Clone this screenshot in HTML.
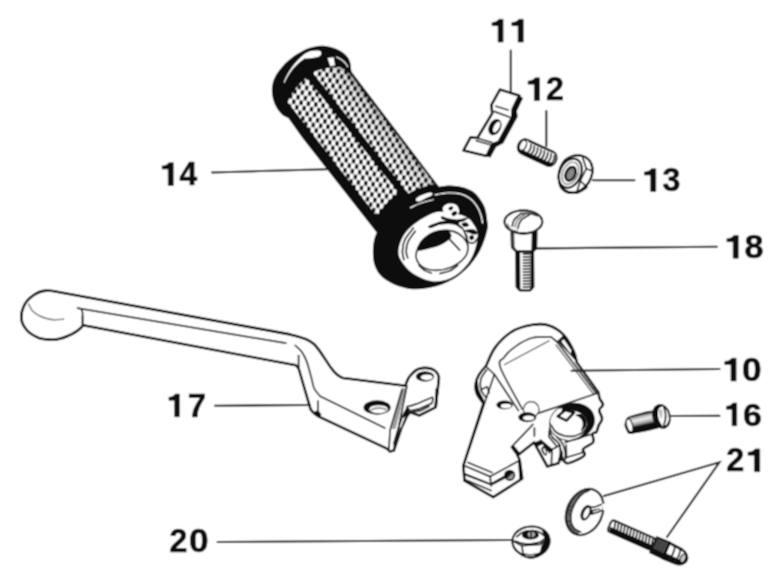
<!DOCTYPE html>
<html>
<head>
<meta charset="utf-8">
<title>Parts diagram</title>
<style>
html,body{margin:0;padding:0;background:#fff;}
body{width:779px;height:582px;overflow:hidden;font-family:"Liberation Sans",sans-serif;}
svg{display:block;}
.lbl{font-family:"Liberation Sans",sans-serif;font-weight:bold;font-size:32px;fill:#111;stroke:#111;stroke-width:0.6px;}
.lb1{fill:#111;stroke:#111;stroke-width:0.6px;}
.ld{stroke:#1a1a1a;stroke-width:2.1;fill:none;stroke-linecap:round;}
.o{stroke:#0a0a0a;stroke-width:2.6;fill:#fff;stroke-linejoin:round;stroke-linecap:round;}
.o2{stroke:#0a0a0a;stroke-width:2.9;fill:#fff;stroke-linejoin:round;stroke-linecap:round;}
.t{stroke:#1a1a1a;stroke-width:1.7;fill:none;stroke-linejoin:round;stroke-linecap:round;}
.g{stroke:#6a6a6a;stroke-width:1.4;fill:none;stroke-linejoin:round;stroke-linecap:round;}
.k{fill:#0a0a0a;stroke:none;}
.w{fill:#fff;stroke:none;}
.wl{stroke:#fff;fill:none;stroke-linecap:round;}
</style>
</head>
<body>
<svg width="779" height="582" viewBox="0 0 779 582">
<defs>
<filter id="soft" x="0" y="0" width="100%" height="100%" filterUnits="objectBoundingBox"><feConvolveMatrix order="3" kernelMatrix="1 2 1 2 4 2 1 2 1" divisor="16" edgeMode="duplicate" preserveAlpha="true"/></filter>
</defs>
<g filter="url(#soft)">
<rect width="779" height="582" fill="#fff"/>
<g id="labels">
<path class="lb1" transform="translate(492.00 42.10) scale(0.982 0.991)" d="M6.2 0V-16.6H0V-19.7C3-19.8 6-21 6.8-23H11.3V0Z"/>
<path class="lb1" transform="translate(511.80 42.10) scale(1.018 0.991)" d="M6.2 0V-16.6H0V-19.7C3-19.8 6-21 6.8-23H11.3V0Z"/>
<path class="lb1" transform="translate(528.10 100.60) scale(1.009 0.991)" d="M6.2 0V-16.6H0V-19.7C3-19.8 6-21 6.8-23H11.3V0Z"/>
<text class="lbl" transform="translate(546.09 100.30) scale(1.006 1.009)">2</text>
<path class="lb1" transform="translate(644.40 191.50) scale(1.009 0.991)" d="M6.2 0V-16.6H0V-19.7C3-19.8 6-21 6.8-23H11.3V0Z"/>
<text class="lbl" transform="translate(662.59 191.20) scale(1.006 1.009)">3</text>
<path class="lb1" transform="translate(162.10 185.50) scale(0.991 0.991)" d="M6.2 0V-16.6H0V-19.7C3-19.8 6-21 6.8-23H11.3V0Z"/>
<text class="lbl" transform="translate(179.41 185.20) scale(0.994 1.009)">4</text>
<path class="lb1" transform="translate(726.90 258.20) scale(1.009 0.991)" d="M6.2 0V-16.6H0V-19.7C3-19.8 6-21 6.8-23H11.3V0Z"/>
<text class="lbl" transform="translate(744.53 257.90) scale(1.069 1.009)">8</text>
<path class="lb1" transform="translate(724.80 381.00) scale(1.000 0.991)" d="M6.2 0V-16.6H0V-19.7C3-19.8 6-21 6.8-23H11.3V0Z"/>
<text class="lbl" transform="translate(742.00 380.70) scale(1.100 1.009)">0</text>
<path class="lb1" transform="translate(726.40 425.80) scale(0.912 0.991)" d="M6.2 0V-16.6H0V-19.7C3-19.8 6-21 6.8-23H11.3V0Z"/>
<text class="lbl" transform="translate(742.94 425.50) scale(1.056 1.009)">6</text>
<text class="lbl" transform="translate(726.19 471.40) scale(1.013 1.009)">2</text>
<path class="lb1" transform="translate(748.00 471.70) scale(1.035 0.991)" d="M6.2 0V-16.6H0V-19.7C3-19.8 6-21 6.8-23H11.3V0Z"/>
<path class="lb1" transform="translate(168.90 416.80) scale(0.929 0.991)" d="M6.2 0V-16.6H0V-19.7C3-19.8 6-21 6.8-23H11.3V0Z"/>
<text class="lbl" transform="translate(187.77 416.50) scale(1.033 1.009)">7</text>
<text class="lbl" transform="translate(169.49 552.10) scale(1.006 1.009)">2</text>
<text class="lbl" transform="translate(189.00 552.10) scale(1.100 1.009)">0</text>
</g>

<g id="grip">
<defs>
<pattern id="kn" width="7.4" height="10.3" patternUnits="userSpaceOnUse" patternTransform="translate(313 112) rotate(7)">
<rect width="7.4" height="10.3" fill="#fff"/>
<rect x="0.15" y="0.2" width="3.4" height="4.75" rx="0.7" fill="#0a0a0a"/>
<rect x="3.85" y="5.35" width="3.4" height="4.75" rx="0.7" fill="#0a0a0a"/>
</pattern>
<linearGradient id="shade" gradientUnits="userSpaceOnUse" x1="380" y1="150" x2="404" y2="131">
<stop offset="0" stop-color="#000" stop-opacity="0"/>
<stop offset="0.6" stop-color="#000" stop-opacity="0.12"/>
<stop offset="1" stop-color="#000" stop-opacity="0.7"/>
</linearGradient>
<filter id="soft2" x="-5%" y="-5%" width="110%" height="110%"><feConvolveMatrix order="3" kernelMatrix="1 2 1 2 4 2 1 2 1" divisor="16" edgeMode="duplicate" preserveAlpha="true"/></filter>
</defs>
<path class="k" d="M284 112 L302.3 137.7 L377 233 L440 188 L351 71 Z"/>
<path class="k" d="M289 118 C285 117 282.5 115.5 280.5 113 C276 108 272.6 101 272 93 C271.4 85 273.5 78 278 72 C284 63.5 292 56.5 301.5 51.5 C307 48.3 312.5 46.6 318 46 C323 45.5 328 46.2 332.5 47.6 C337.5 49.2 341.5 51.5 344.8 54 C348 56.8 350 60 350.6 64 L351.5 73 L300 120 Z"/>
<clipPath id="cpL"><path d="M287.6 101.9 C292 92 299 83.5 306.6 77.8 L398.6 192.8 C391 198 383 206 377 216.4 Z"/></clipPath><clipPath id="cpR"><path d="M312.6 72.4 C322 68 334 66.5 342.5 67.5 L350.7 75 L434.5 184 C426 185.5 417 188.5 408.3 193.4 Z"/></clipPath>
<g clip-path="url(#cpL)"><g><rect x="260" y="40" width="200" height="200" fill="url(#kn)"/></g></g>
<g clip-path="url(#cpR)"><g><rect x="260" y="40" width="200" height="200" fill="url(#kn)"/><rect x="260" y="40" width="200" height="200" fill="url(#shade)"/></g></g>
<path class="w" d="M283.6 82.5 C288 71 296 61 304.5 54 C309 50.8 316 50 320 51 C322.5 52.5 321.5 56 317.5 57 C312 58 308 58.5 304.5 58.5 C296 64 289 72.5 284.6 82.8 Z"/>
<path class="w" d="M327.6 58 L333.6 57.2 L335 65.5 L330.2 66 Z"/>
<path class="wl" d="M336.5 57 C341.5 59 345.5 62.5 347.6 66.5" stroke-width="1.1"/>
<path class="k" d="M372.9 249.8 C373.0 244.9 373.9 239.7 375.2 236.0 C376.5 232.3 378.1 231.1 380.6 227.7 C383.1 224.3 386.6 219.3 390.0 215.5 C393.4 211.7 397.2 208.2 401.2 205.0 C405.2 201.8 409.5 198.6 414.0 196.0 C418.5 193.4 421.9 191.3 428.0 189.6 C434.1 187.8 443.5 185.3 450.7 185.5 C457.9 185.7 465.8 187.3 471.3 190.6 C476.8 193.8 481.0 199.8 483.7 205.0 C486.4 210.2 486.9 217.8 487.5 222.0 C488.1 226.2 488.0 226.5 487.3 230.0 C486.6 233.5 485.1 238.5 483.4 242.8 C481.7 247.1 479.8 251.4 477.0 255.7 C474.2 260.0 470.7 264.6 466.8 268.5 C462.9 272.4 458.8 275.9 453.9 278.8 C449.0 281.7 443.5 284.1 437.3 285.9 C431.1 287.6 423.3 289.3 416.7 289.3 C410.1 289.3 403.5 287.9 397.8 285.9 C392.1 283.9 386.2 280.7 382.3 277.3 C378.4 273.9 376.2 269.9 374.6 265.3 C373.0 260.7 372.8 254.7 372.9 249.8Z"/>
<path class="w" d="M416.2 198.6 C417.0 197.5 420.4 195.8 422.8 194.8 C425.2 193.8 428.8 192.6 430.4 192.6 C431.9 192.6 433.0 193.9 432.3 194.8 C431.5 195.8 428.0 197.1 425.6 198.2 C423.3 199.4 419.7 201.6 418.1 201.6 C416.5 201.7 415.4 199.7 416.2 198.6Z"/>
<path class="wl" stroke-width="1.2" d="M410.5 207.7 C412.3 206.9 417.1 204.3 420.9 203.0 C424.7 201.6 431.2 200.3 433.2 199.7"/>
<path class="wl" stroke-width="1.3" d="M435.1 194.8 C437.1 194.5 443.1 193.1 447.4 192.9 C451.6 192.8 456.8 192.9 460.6 193.9 C464.4 194.8 467.4 196.6 470.1 198.6 C472.7 200.6 474.9 203.0 476.7 205.8 C478.5 208.6 480.1 212.4 481.0 215.2 C482.0 218.1 482.3 221.5 482.5 222.8"/>
<path class="w" d="M398.6 249.3 C398.1 253.5 398.6 256.5 401.1 260.6 C403.5 264.7 407.8 270.4 413.4 273.8 C418.9 277.3 427.2 281.1 434.1 281.4 C441.1 281.7 448.8 279.5 454.9 275.7 C461.1 272.0 467.2 265.2 471.0 258.7 C474.8 252.3 477.2 242.7 477.6 237.0 C478.1 231.3 476.1 228.2 473.8 224.7 C471.6 221.2 469.8 218.3 464.4 216.2 C459.0 214.0 447.7 212.0 441.7 211.8 C435.7 211.7 433.2 213.1 428.5 215.2 C423.8 217.4 417.5 221.4 413.4 224.7 C409.3 228.0 406.4 231.0 403.9 235.1 C401.4 239.2 399.1 245.0 398.6 249.3Z"/>
<path class="t" stroke-width="1" d="M413.4 228.1 C411.9 230.1 406.7 236.0 404.8 239.8 C403.0 243.7 402.5 247.9 402.4 251.2 C402.2 254.5 403.7 258.3 403.9 259.7"/>
<path class="t" stroke-width="0.8" d="M415.2 231.3 C414.0 233.0 409.6 238.4 408.1 241.7 C406.6 245.0 406.2 248.5 406.2 251.2 C406.1 253.8 407.4 256.7 407.7 257.8"/>
<path class="t" stroke-width="1.6" d="M428.9 227.0 C430.7 226.4 435.5 224.3 439.8 223.8 C444.2 223.2 451.2 223.0 454.9 223.8 C458.7 224.5 460.6 226.3 462.5 228.5 C464.4 230.7 465.4 234.1 466.3 237.0 C467.1 239.8 467.4 244.1 467.6 245.5"/>
<path class="k" d="M429.4 225.6 C431.2 224.5 437.8 222.1 441.7 221.3 C445.6 220.5 451.1 220.7 453.1 220.9 C455.0 221.2 455.3 222.3 453.4 222.8 C451.5 223.3 445.4 222.9 441.7 223.8 C438.0 224.6 433.4 227.8 431.3 228.1 C429.3 228.4 427.7 226.8 429.4 225.6Z"/>
<path d="M416.2 257.8 C415.4 254.5 416.8 250.5 418.1 247.4 C419.3 244.2 421.1 241.4 423.8 238.9 C426.4 236.4 430.2 233.7 434.1 232.3 C438.1 230.8 443.1 230.0 447.4 230.4 C451.6 230.7 456.3 232.0 459.7 234.5 C463.1 237.0 467.0 241.6 467.8 245.5 C468.6 249.4 467.2 254.2 464.4 257.8 C461.6 261.4 455.9 265.1 451.2 267.2 C446.4 269.3 440.8 270.4 436.0 270.4 C431.3 270.4 426.1 269.3 422.8 267.2 C419.5 265.1 417.0 261.1 416.2 257.8Z" fill="#fff" stroke="#111" stroke-width="1.6"/>
<path class="k" d="M417.1 250.2 C416.0 248.6 420.9 241.9 423.8 238.9 C426.6 235.9 430.2 233.7 434.1 232.3 C438.1 230.8 444.5 229.6 447.4 230.4 C450.2 231.2 452.1 234.6 451.2 237.0 C450.2 239.3 445.2 242.7 441.7 244.5 C438.2 246.4 434.5 247.4 430.4 248.3 C426.3 249.3 418.2 251.8 417.1 250.2Z"/>
<path class="t" stroke-width="1.5" d="M449.3 238.9 L459.7 250.2"/>
<path class="t" stroke-width="0.9" d="M419.0 265.3 C420.0 266.2 422.6 269.2 424.7 270.4 C426.7 271.7 430.2 272.6 431.3 273.1"/>
<path class="t" stroke-width="0.9" d="M439.8 273.5 C441.4 273.1 446.3 272.4 449.3 271.0 C452.3 269.7 456.4 266.3 457.8 265.3"/>
<path class="w" d="M442.7 208.6 C442.8 206.7 445.2 204.5 447.4 203.9 C449.6 203.3 453.9 203.6 455.9 204.8 C457.8 206.1 459.3 209.5 459.1 211.5 C458.9 213.4 457.1 216.1 454.9 216.8 C452.8 217.4 448.5 216.6 446.4 215.2 C444.4 213.9 442.5 210.5 442.7 208.6Z"/>
<path class="k" d="M448.3 208.6 C448.4 207.9 450.3 206.3 451.2 206.2 C452.0 206.0 453.5 207.0 453.4 207.7 C453.4 208.4 451.6 210.4 450.8 210.5 C449.9 210.7 448.3 209.4 448.3 208.6Z"/>
<path class="k" d="M451.5 213.4 C451.9 212.5 454.4 211.1 455.3 211.1 C456.3 211.1 457.5 212.5 457.2 213.4 C456.9 214.2 454.4 216.2 453.4 216.2 C452.5 216.2 451.2 214.2 451.5 213.4Z"/>
<path class="k" d="M441.7 216.2 C443.0 216.1 446.6 218.1 449.3 218.6 C452.0 219.2 454.6 219.6 457.8 219.4 C460.9 219.2 467.1 217.3 468.2 217.5 C469.3 217.8 465.9 220.0 464.4 220.9 C462.9 221.8 459.7 221.5 459.1 222.8 C458.5 224.1 461.0 228.0 460.6 228.5 C460.2 229.0 458.7 226.7 456.8 225.6 C454.9 224.5 451.8 223.0 449.3 221.9 C446.8 220.8 443.0 220.0 441.7 219.0 C440.5 218.1 440.5 216.3 441.7 216.2Z"/>
<path class="k" d="M461.6 223.8 C461.9 223.0 465.0 222.1 466.3 222.4 C467.5 222.7 469.4 224.9 469.1 225.6 C468.8 226.4 465.7 227.3 464.4 227.0 C463.1 226.7 461.2 224.5 461.6 223.8Z"/>
<path class="k" d="M464.4 230.4 C465.3 229.8 471.6 229.0 473.8 229.4 C476.1 229.9 477.6 232.4 477.6 233.2 C477.6 234.1 475.4 234.6 473.8 234.5 C472.3 234.4 469.8 233.3 468.2 232.6 C466.6 231.9 463.4 230.9 464.4 230.4Z"/>
<path class="k" d="M469.1 237.0 C469.3 236.1 471.5 234.9 472.3 235.1 C473.2 235.3 474.4 237.1 474.2 237.9 C474.0 238.8 471.9 240.4 471.0 240.2 C470.2 240.0 468.9 237.8 469.1 237.0Z"/>
<path class="t" stroke-width="1.4" d="M466.3 234.5 C466.6 235.7 466.9 240.4 468.2 241.7 C469.4 243.1 472.2 243.3 473.8 242.7 C475.5 242.0 477.3 238.7 478.0 237.9"/>
</g>

<g id="small">
<path class="k" stroke="#111" stroke-width="1.6" stroke-linejoin="round" d="M519.2 95.5 L523.1 98.1 L516.9 111.0 L517.7 116.8 L503.3 143.2 L496.2 146.9 L490.3 157.7 L486.7 155.9 L492.2 144.2 L498.7 141.9 L512.3 116.8 L512.7 109.1Z"/>
<path class="o" stroke-width="2.4" d="M499.9 89.6 L519.2 95.5 L512.7 109.1 L512.3 116.8 L498.7 141.9 L492.2 144.2 L486.7 155.9 L463.5 150.4 L470.5 137.3 L477.4 138.0 L492.2 113.3 L491.4 104.8Z"/>
<path class="t" stroke-width="1.6" d="M495.9 106.3 L508.1 110.0"/>
<path class="t" stroke-width="1.1" d="M494.0 111.4 L510.0 117.2"/>
<path class="t" stroke-width="1.2" d="M478.2 138.5 L491.5 142.4"/>
<path class="t" stroke-width="1.2" d="M476.4 140.7 L490.3 144.7"/>
<ellipse cx="494.9" cy="127.2" rx="6" ry="8.6" transform="rotate(28 494.9 127.2)" fill="#111"/>
<ellipse cx="496.6" cy="127.1" rx="2.7" ry="5.8" transform="rotate(28 496.6 127.1)" fill="#fff"/>
<g transform="translate(537.2 152.6) rotate(25)">
<rect x="-20.5" y="-7.5" width="41" height="15" rx="6" ry="7.5" fill="#fff" stroke="#111" stroke-width="1.9"/>
<path class="k" d="M-19.5 1 C-19 6 -15 8.4 -10 8.4 L15 8.4 C18.5 8.4 20.5 5 21 1 C19 3 17 3.6 14 3.6 L-10 3.6 C-14 3.6 -17.5 3 -19.5 1Z"/>
<path class="t" stroke-width="1.5" d="M-9.0 -4.5 C-7.6 -2 -7.4 1 -8.4 4"/>
<path class="t" stroke-width="1.5" d="M-5.3 -4.5 C-3.9 -2 -3.7 1 -4.7 4"/>
<path class="t" stroke-width="1.5" d="M-1.6 -4.5 C-0.2 -2 0.0 1 -1.0 4"/>
<path class="t" stroke-width="1.5" d="M2.1 -4.5 C3.5 -2 3.7 1 2.7 4"/>
<path class="t" stroke-width="1.5" d="M5.8 -4.5 C7.2 -2 7.4 1 6.4 4"/>
<path class="t" stroke-width="1.5" d="M9.5 -4.5 C10.9 -2 11.1 1 10.1 4"/>
<path class="t" stroke-width="1.5" d="M13.2 -4.5 C14.6 -2 14.8 1 13.8 4"/>
<path class="t" stroke-width="1.5" d="M16.9 -4.5 C18.3 -2 18.5 1 17.5 4"/>
<path class="t" stroke-width="1.2" d="M-12 -6.8 L14 -6.8"/>
<ellipse cx="-16" cy="-0.6" rx="3.2" ry="5.4" fill="#fff" stroke="#111" stroke-width="1.3"/>
</g>
<path d="M558.7 176.4 C558.5 173.2 559.4 170.1 560.5 167.4 C561.6 164.6 563.3 161.8 565.4 159.9 C567.5 158.0 570.4 156.5 573.1 155.8 C575.9 155.1 579.5 155.0 582.2 155.8 C584.8 156.5 587.5 158.1 589.3 160.3 C591.0 162.4 592.2 165.7 592.5 168.7 C592.8 171.7 592.1 175.3 590.9 178.3 C589.7 181.3 587.7 184.4 585.4 186.7 C583.1 189.0 579.9 191.3 577.0 192.1 C574.1 193.0 570.6 192.8 568.0 191.9 C565.4 191.0 563.1 189.3 561.5 186.7 C560.0 184.1 558.9 179.6 558.7 176.4Z" fill="#fff" stroke="#111" stroke-width="2.4"/>
<path class="k" d="M558.5 175.1 C559.1 176.0 560.0 183.4 561.5 186.1 C563.1 188.7 565.4 190.2 568.0 191.1 C570.6 192.0 574.1 192.2 577.0 191.3 C579.9 190.5 583.7 186.7 585.4 186.2 C587.1 185.6 588.5 186.8 587.3 188.0 C586.1 189.2 581.6 192.5 578.3 193.4 C575.0 194.3 570.3 194.2 567.3 193.4 C564.4 192.6 562.1 190.7 560.5 188.6 C558.9 186.6 558.3 183.2 557.9 180.9 C557.6 178.6 557.9 174.2 558.5 175.1Z"/>
<ellipse cx="570.3" cy="173.2" rx="10.6" ry="15.2" transform="rotate(24 570.3 173.2)" fill="#fff" stroke="#111" stroke-width="2.2"/>
<ellipse cx="570.3" cy="173.2" rx="7.6" ry="11.6" transform="rotate(24 570.3 173.2)" fill="none" stroke="#333" stroke-width="0.9"/>
<ellipse cx="570.6" cy="173.8" rx="4.6" ry="7.2" transform="rotate(24 570.6 173.8)" fill="#888" stroke="#111" stroke-width="2.6"/>
<path class="t" stroke-width="1.5" d="M582.4 156.4 L586.3 168.7 L580.2 180.9 L577.0 191.6"/>
<path class="t" stroke-width="1.5" d="M586.3 168.7 L592.5 171.0"/>
<path class="t" stroke-width="1.2" d="M580.2 180.9 L586.0 186.1"/>
<path class="o" stroke-width="1.8" d="M516.5 250.7 L532.8 250.7 L533.1 286.8 L530.2 290.2 L519.9 290.2 L516.8 286.8Z"/>
<path class="k" d="M516.5 251.0 L520.1 251.0 L520.4 289.3 L519.9 290.2 L516.8 286.8Z"/>
<path class="k" d="M530.7 251.0 L533.1 251.0 L533.1 286.8 L530.7 289.7Z"/>
<path class="t" stroke-width="1.2" d="M523.4 254.1 L530.4 253.6"/>
<path class="t" stroke-width="1.2" d="M523.4 257.1 L530.4 256.6"/>
<path class="t" stroke-width="1.2" d="M523.4 260.1 L530.4 259.6"/>
<path class="t" stroke-width="1.2" d="M523.4 263.1 L530.4 262.6"/>
<path class="t" stroke-width="1.2" d="M523.4 266.2 L530.4 265.6"/>
<path class="t" stroke-width="1.2" d="M523.4 269.2 L530.4 268.6"/>
<path class="t" stroke-width="1.2" d="M523.4 272.2 L530.4 271.6"/>
<path class="t" stroke-width="1.2" d="M523.4 275.2 L530.4 274.7"/>
<path class="t" stroke-width="1.2" d="M523.4 278.2 L530.4 277.7"/>
<path class="t" stroke-width="1.2" d="M523.4 281.2 L530.4 280.7"/>
<path class="t" stroke-width="1.2" d="M523.4 284.2 L530.4 283.7"/>
<path class="t" stroke-width="1.2" d="M523.4 287.2 L530.4 286.7"/>
<path class="o" stroke-width="1.8" d="M511.8 231.8 L536.2 231.8 L535.9 248.5 L532.5 251.5 L516.5 251.5 L512.2 247.3Z"/>
<path d="M511.8 232.6 L514.2 232.6 L514.6 246.7 L517.0 251.2 L516.1 251.5 L512.0 247.3Z" fill="#444"/>
<path class="k" d="M531.8 232.6 L536.2 232.1 L535.9 248.5 L532.5 251.5 L531.4 251.5Z"/>
<ellipse cx="523.4" cy="221.8" rx="18.9" ry="11.4" fill="#fff" stroke="#111" stroke-width="2.2"/>
<path class="t" stroke-width="1.8" d="M506.7 227.5 C507.9 228.3 511.1 231.2 513.9 232.3 C516.7 233.4 520.1 234.1 523.4 234.0 C526.6 234.0 530.8 233.2 533.7 232.0 C536.5 230.7 539.4 227.5 540.5 226.6"/>
<path class="t" stroke-width="1.4" d="M512.2 226.1 C512.5 225.1 512.8 221.8 514.2 219.8 C515.7 217.7 519.7 214.7 520.8 213.7"/>
<path class="t" stroke-width="1.4" d="M517.7 228.5 C518.2 227.2 518.8 222.9 520.8 220.6 C522.7 218.3 527.9 215.8 529.4 214.8"/>
<path class="g" stroke-width="1.6" d="M514.9 227.1 C515.3 226.0 515.7 222.4 517.3 220.3 C518.9 218.2 523.4 215.4 524.6 214.4"/>
<path class="t" stroke-width="1.2" d="M520.8 213.7 C522.2 213.7 526.6 213.1 529.4 213.4 C532.1 213.7 535.8 215.4 537.1 215.8"/>
<path class="g" d="M507.4 224.1 C507.9 224.9 508.8 228.0 510.5 229.2 C512.1 230.4 516.2 230.9 517.3 231.3"/>
<defs><linearGradient id="b16" gradientUnits="userSpaceOnUse" x1="642.0" y1="414.3" x2="645.5" y2="430.0"><stop offset="0" stop-color="#333"/><stop offset="0.1" stop-color="#aaa"/><stop offset="0.3" stop-color="#eee"/><stop offset="0.55" stop-color="#999"/><stop offset="0.68" stop-color="#1a1a1a"/><stop offset="0.75" stop-color="#0a0a0a"/><stop offset="1" stop-color="#0a0a0a"/></linearGradient></defs>
<path d="M628.5 417.5 C630.8 416.3 650.9 410.7 653.6 411.4 C656.3 412.2 662.5 424.7 660.8 426.4 C659.1 428.2 635.7 432.4 633.0 432.9 C630.3 433.4 629.1 433.2 628.5 432.6 C627.8 431.9 625.3 426.8 625.3 425.5 C625.3 424.3 626.1 418.6 628.5 417.5Z" fill="url(#b16)" stroke="#111" stroke-width="1.6" stroke-linejoin="round"/>
<ellipse cx="629.6" cy="425.4" rx="2.9" ry="6.6" transform="rotate(-16 629.6 425.4)" fill="#fff" stroke="#111" stroke-width="1.2"/>
<ellipse cx="661.5" cy="416.4" rx="8.2" ry="11.6" transform="rotate(-14 661.5 416.4)" fill="#fff" stroke="#111" stroke-width="2"/>
<path class="k" d="M653.8 412.1 C654.0 410.0 654.9 407.8 655.9 406.7 C656.9 405.5 659.0 405.1 659.9 405.1 C660.9 405.0 661.9 405.7 661.7 406.2 C661.6 406.8 659.7 407.4 659.0 408.5 C658.4 409.6 657.9 411.0 657.9 413.0 C657.9 414.9 658.2 417.9 659.0 420.2 C659.8 422.4 662.4 425.4 662.6 426.6 C662.8 427.8 661.4 427.7 660.4 427.3 C659.4 427.0 657.5 426.0 656.5 424.6 C655.5 423.3 655.0 421.4 654.5 419.3 C654.1 417.2 653.6 414.2 653.8 412.1Z"/>
<path d="M659.0 410.7 C659.3 409.7 661.2 409.0 661.7 409.4 C662.3 409.7 662.4 411.5 662.4 413.0 C662.4 414.5 662.1 417.9 661.7 418.4 C661.3 418.8 660.4 416.9 659.9 415.7 C659.5 414.4 658.7 411.8 659.0 410.7Z" fill="#bbb"/>
<path class="t" stroke-width="1.2" d="M664.0 407.6 C664.2 408.5 665.3 410.9 665.5 413.0 C665.7 415.1 665.6 418.1 665.3 420.2 C665.0 422.3 663.8 424.6 663.5 425.5"/>
<path class="k" d="M663.5 426.0 C664.0 425.4 665.8 425.5 666.7 424.6 C667.5 423.8 668.2 421.5 668.7 421.1 C669.3 420.6 670.0 421.1 669.8 422.0 C669.6 422.9 668.5 425.4 667.6 426.4 C666.6 427.5 664.6 428.5 664.0 428.4 C663.3 428.3 663.1 426.6 663.5 426.0Z"/>
<ellipse cx="584.7" cy="512.0" rx="17.6" ry="24" transform="rotate(25 584.7 512.0)" fill="#fff" stroke="#111" stroke-width="2.2"/>
<path d="M587.0 490.1 C585.9 490.6 582.7 491.3 580.6 492.9 C578.5 494.5 576.2 497.1 574.4 499.6 C572.6 502.1 570.9 505.1 569.8 507.8 C568.7 510.6 567.9 513.3 567.7 516.1 C567.6 518.8 567.9 521.9 568.8 524.3 C569.6 526.7 571.3 529.0 572.9 530.5 C574.5 532.1 577.6 533.1 578.6 533.6" fill="none" stroke="#111" stroke-width="4.2" stroke-dasharray="1.5 0.5"/>
<path class="t" stroke-width="1.3" d="M589.4 490.3 C588.4 490.8 585.3 491.8 583.2 493.4 C581.1 495.0 578.8 497.6 577.0 500.1 C575.2 502.6 573.6 505.7 572.6 508.4 C571.5 511.0 571.0 513.6 570.8 516.1 C570.7 518.6 570.9 521.2 571.5 523.3 C572.2 525.4 573.4 527.5 574.9 529.0 C576.5 530.4 579.7 531.5 580.6 532.1"/>
<ellipse cx="586.0" cy="512.8" rx="4.9" ry="8.2" transform="rotate(25 586.0 512.8)" fill="#111"/>
<ellipse cx="586.4" cy="513.0" rx="2.3" ry="5.6" transform="rotate(25 586.4 513.0)" fill="#fff"/>
<path class="t" stroke-width="1.8" d="M590.1 507.0 C590.9 507.0 593.2 507.4 595.1 507.0 C596.9 506.6 600.2 504.9 601.2 504.5"/>
<path class="t" stroke-width="1.8" d="M590.7 514.2 C591.8 513.9 595.0 513.2 597.1 512.5 C599.2 511.8 602.3 510.3 603.3 509.9"/>
<path class="k" d="M590.9 509.9 L599.7 508.4 L600.2 511.4 L591.4 513.8Z"/>
<path class="wl" stroke-width="1.3" d="M593.5 511.8 L598.7 510.3"/>
<path class="w" d="M601.8 503.9 L605.4 503.2 L605.9 509.9 L603.1 510.5Z"/>
<g transform="translate(609.6 525.2) rotate(23.7)">
<rect x="0" y="-6.2" width="48" height="12.4" rx="3" fill="#fff" stroke="#111" stroke-width="2"/>
<path class="k" d="M0.5 1.2 L48 1.2 L48 7 L3 7 Z"/>
<path class="t" stroke-width="1.2" d="M4.0 -5.6 L5.8 1.6"/>
<path class="t" stroke-width="1.2" d="M7.4 -5.6 L9.2 1.6"/>
<path class="t" stroke-width="1.2" d="M10.8 -5.6 L12.6 1.6"/>
<path class="t" stroke-width="1.2" d="M14.2 -5.6 L16.0 1.6"/>
<path class="t" stroke-width="1.2" d="M17.6 -5.6 L19.4 1.6"/>
<path class="t" stroke-width="1.2" d="M21.0 -5.6 L22.8 1.6"/>
<path class="t" stroke-width="1.2" d="M24.4 -5.6 L26.2 1.6"/>
<path class="t" stroke-width="1.2" d="M27.8 -5.6 L29.6 1.6"/>
<path class="t" stroke-width="1.2" d="M31.2 -5.6 L33.0 1.6"/>
<path class="t" stroke-width="1.2" d="M34.6 -5.6 L36.4 1.6"/>
<path class="t" stroke-width="1.2" d="M38.0 -5.6 L39.8 1.6"/>
<path class="t" stroke-width="1.2" d="M41.4 -5.6 L43.2 1.6"/>
<path class="t" stroke-width="1.2" d="M44.8 -5.6 L46.6 1.6"/>
<path d="M48 -8 L62 -8.6 L62 9 L48 8.6 Z" fill="#aaa" stroke="#111" stroke-width="1.8" stroke-linejoin="round"/>
<path class="k" d="M48 3.5 L62 4 L62 9.4 L48 9Z"/>
<path class="t" stroke-width="0.8" d="M49.8 -7.8 L49.8 3.5"/>
<path class="t" stroke-width="0.8" d="M52.0 -7.8 L52.0 3.5"/>
<path class="t" stroke-width="0.8" d="M54.2 -7.8 L54.2 3.5"/>
<path class="t" stroke-width="0.8" d="M56.4 -7.8 L56.4 3.5"/>
<path class="t" stroke-width="0.8" d="M58.6 -7.8 L58.6 3.5"/>
<path class="t" stroke-width="0.8" d="M60.8 -7.8 L60.8 3.5"/>
<path class="o" stroke-width="1.8" d="M62 -7.8 L76 -6.8 C81 -6 84.5 -2.5 84.5 1.2 C84.5 5 81 8 76 8.4 L62 8.8Z"/>
<path class="k" d="M62 3 L76 3.4 C80 3.4 83 2.8 84.5 1.2 C84.5 5 81 8.4 76 8.8 L62 9.2Z"/>
<path class="t" stroke-width="1.3" d="M68 -7.3 C70 -3 70 4 68 8.6"/>
<path class="t" stroke-width="1.1" d="M74 -6.8 C76 -3 76 3 74 8.2"/>
<ellipse cx="80.6" cy="0.8" rx="2.5" ry="4.4" fill="#ccc" stroke="#111" stroke-width="1.3"/>
</g>
<path d="M512.5 540.0 C512.8 537.9 513.6 535.4 515.3 533.4 C517.0 531.4 519.8 529.4 522.4 528.2 C525.0 527.1 528.1 526.6 530.9 526.5 C533.7 526.4 536.8 526.8 539.4 527.7 C542.0 528.7 544.8 530.5 546.5 532.5 C548.2 534.4 549.3 537.0 549.6 539.6 C549.8 542.1 549.1 545.2 547.9 547.6 C546.7 549.9 544.6 552.1 542.2 553.7 C539.9 555.4 536.5 557.0 533.7 557.5 C530.9 558.0 528.0 557.6 525.2 556.5 C522.5 555.5 519.2 553.1 517.2 551.4 C515.2 549.6 514.2 548.1 513.4 546.2 C512.6 544.3 512.2 542.1 512.5 540.0Z" fill="#fff" stroke="#111" stroke-width="2.2"/>
<path class="k" d="M542.2 530.6 C542.7 530.2 545.5 531.4 546.7 532.9 C548.0 534.4 549.6 537.1 549.8 539.6 C550.0 542.0 549.1 545.4 547.9 547.9 C546.6 550.3 544.6 552.4 542.2 554.1 C539.9 555.8 536.5 557.5 533.7 558.0 C530.9 558.4 527.7 557.8 525.2 556.9 C522.7 556.1 518.9 553.4 518.6 552.8 C518.3 552.2 521.1 553.1 523.3 553.2 C525.5 553.4 529.2 554.1 531.8 553.9 C534.5 553.7 537.8 553.6 539.4 552.3 C541.0 551.0 540.5 548.0 541.3 546.2 C542.1 544.4 543.7 543.2 544.1 541.4 C544.5 539.6 543.9 537.1 543.6 535.3 C543.3 533.5 541.7 531.0 542.2 530.6Z"/>
<path class="w" d="M523.3 547.1 C523.8 546.7 529.8 546.7 530.9 546.6 C531.9 546.6 538.3 545.8 538.9 546.2 C539.5 546.5 539.9 550.9 539.4 551.4 C538.9 551.8 532.9 552.3 531.8 552.3 C530.8 552.3 524.4 552.4 523.8 552.0 C523.2 551.7 522.9 547.5 523.3 547.1Z"/>
<path d="M525.0 554.5 L534.7 554.2 L534.5 556.4 L525.4 556.4Z" fill="#999"/>
<path class="t" stroke-width="1.4" d="M513.9 541.4 L521.9 545.7 L540.3 544.5 L544.1 541.4"/>
<path class="t" stroke-width="1.3" d="M521.9 545.7 L522.9 552.8"/>
<path class="t" stroke-width="1.2" d="M516.7 536.7 C517.8 535.9 521.0 533.0 523.3 532.0 C525.7 531.0 528.4 530.6 530.9 530.6 C533.4 530.5 536.3 531.0 538.4 531.8 C540.6 532.6 542.8 534.7 543.6 535.3"/>
<path class="t" stroke-width="1.2" d="M515.3 541.0 C516.5 541.4 519.8 542.9 522.4 543.3 C525.0 543.8 528.1 544.0 530.9 543.8 C533.7 543.6 537.2 543.2 539.4 542.4 C541.6 541.6 543.3 539.6 544.1 539.1"/>
<ellipse cx="530.4" cy="535.0" rx="8.6" ry="4.6" fill="#111"/>
<ellipse cx="531.4" cy="534.4" rx="3.6" ry="2.6" fill="#aaa"/>
<path class="t" stroke-width="0.8" d="M531.2 532.0 L531.2 537.2"/>
</g>

<g id="lever">
<path class="o" stroke-width="3.1" d="M59.5 292.3 L290 334.4 C300 336.5 308 338.5 314 344 C320 350 326 361 331.2 368.1 C335 373.5 338 376.5 343 378 L405.5 385.7 C407 380 409 376.5 411.6 374.3 C415 370 418 368.5 422 368.1 C427 367.5 431.5 368.5 434.3 370.2 C437.5 372.5 439 375 438.9 378.5 L437.9 387.7 L435.5 407.3 L419.2 415.5 L410.2 412.2 L406.9 416.3 L401.2 428.5 L393.9 450.5 L389.8 451.4 L386.9 448.6 L318.9 416.6 C315 414.5 312.5 412.5 310.6 409.4 L298.5 368 L296 365.3 L83.2 325.3 C80 329 74 333.5 67.7 336 C62 338.5 57 339.7 53.3 339.7 C47 339.7 42.5 339.2 38.9 338 C33 335.5 29 333 26.5 329.8 C23 325.5 21.3 321.5 21.3 317.4 C21.3 313 22 310 23.4 307.1 C25.5 302 28.5 298.5 32.7 295.8 C37 292.5 41.5 290.9 46.1 290.6 C51 290.3 55 291.2 59.5 292.3 Z"/>
<path class="t" stroke="#3a3a3a" stroke-width="1.7" d="M82.6 324.8 L82.6 313 C82.4 309 80 308 77.5 308.2 L285.8 343.2"/>
<path class="t" stroke-width="2.2" d="M82.6 316 L82.6 325"/>
<path class="g" d="M28.6 304.0 C29.3 305.2 30.8 309.3 33.0 311.5 C35.2 313.7 38.7 315.6 42.0 317.0 C45.3 318.4 49.4 319.4 53.0 319.8 C56.6 320.2 61.8 319.3 63.6 319.2"/>
<path class="t" stroke="#3a3a3a" stroke-width="1.7" d="M295.2 345.5 C296.2 346.5 299.6 348.9 301.5 351.5 C303.4 354.1 304.9 356.6 306.5 360.9 C308.1 365.2 310.0 372.8 311.3 377.4 C312.6 382.0 312.7 385.4 314.2 388.5 C315.7 391.6 319.2 394.9 320.2 396.2 L384.8 427.9"/>
<path class="t" stroke-width="2.4" d="M298.6 355.5 L298.6 368.4"/>
<path class="t" stroke-width="2.6" d="M317.9 401 L317.9 415"/>
<path class="k" d="M314 412 L317.9 410 L321.5 414.5 L319 417.5Z"/>
<ellipse cx="377.1" cy="407.5" rx="13.6" ry="7.2" fill="#111"/>
<ellipse cx="378.6" cy="409.2" rx="9.2" ry="4" fill="#fff"/>
<path class="g" d="M371 410 C375 407.5 382 407.5 386 409.5"/>
<ellipse cx="425" cy="376.4" rx="9.2" ry="5.2" fill="#111"/>
<ellipse cx="426.8" cy="377.2" rx="6" ry="2.8" fill="#fff"/>
<path d="M402.5 388.5 L406.4 387.4 L395.5 428.5 L391.7 429.3Z" fill="#999" stroke="none"/>
<path class="t" stroke-width="1.3" d="M406.9 386.1 L393.9 450.5"/>
<path class="t" stroke-width="1" d="M402.0 389.4 L390.1 430.1 L389.0 448.1"/>
<path class="t" stroke-width="2.4" d="M406.9 406.8 C408.3 406.4 412.2 405.4 415.1 404.4 C417.9 403.4 421.1 402.0 424.0 400.8 C427.0 399.6 431.1 397.8 432.5 397.2"/>
<path class="t" stroke-width="1.4" d="M410.2 410.9 L419.2 408.9 L431.9 403.4 L433.2 398.5"/>
<path class="t" stroke-width="1" d="M413.4 411.9 L420.0 410.9 L428.9 406.5"/>
<path class="k" d="M406.9 406.8 L410.2 408.9 L407.7 414.6 L404.5 417.1 L401.2 428.5 L398.3 428.5 L402.0 415.5Z"/>
<path class="w" d="M402.8 417.4 L404.5 417.9 L400.9 427.7 L399.6 427.2Z"/>
<path class="t" stroke-width="1.2" d="M398.3 428.5 L393.9 443.2 L395.0 448.1"/>
<path class="t" stroke-width="1.1" d="M400.9 429.3 L396.3 438.3"/>
<path class="k" d="M435.5 388.5 L438.7 387.7 L437.1 407.3 L434.6 408.1Z"/>
</g>

<g id="housing">
<path class="o" stroke-width="2.7" d="M486.1 365.7 C487.6 362.6 491.1 352.8 495.4 347.1 C499.7 341.4 505.7 335.4 511.9 331.6 C518.0 327.9 526.3 325.9 532.5 324.8 C538.7 323.8 543.8 323.8 549.0 325.5 C554.1 327.1 559.3 330.4 563.4 334.7 C567.5 339.0 571.5 346.6 573.7 351.2 C575.9 355.9 576.3 360.7 576.8 362.6 L598.5 392.5 L598.5 392.5 C598.7 393.6 599.0 396.9 599.8 398.9 C600.5 400.9 603.1 402.7 603.0 404.6 C602.9 406.5 599.4 407.8 599.2 410.2 C599.1 412.6 602.2 416.3 602.1 418.8 C602.0 421.3 599.7 423.2 598.7 425.4 C597.8 427.6 597.4 430.6 596.4 432.0 C595.4 433.4 593.2 432.2 592.6 433.9 C592.0 435.6 594.6 439.9 593.0 442.4 C591.4 444.9 584.7 446.8 583.2 449.0 C581.7 451.2 586.6 453.2 584.1 455.6 C581.6 458.0 571.6 462.7 568.0 463.2 C564.4 463.7 563.5 460.3 562.4 458.4 C561.3 456.5 561.6 452.9 561.4 451.8 L558.6 463.2 L547.3 466.5 L534 442.4 L517.5 455.5 L519.7 460 L522.2 478.7 L493.3 497.2 L464.4 480.7 L463.4 465.3 L483.5 403.5 L483.0 402.8 C482.0 401.2 478.0 396.6 476.8 393.5 C475.6 390.4 475.2 387.3 475.6 384.2 C475.9 381.1 477.1 378.0 478.9 374.9 C480.6 371.9 484.9 367.2 486.1 365.7Z"/>
<path class="t" d="M486.7 369.8 C485.7 371.3 481.9 375.8 480.9 379.1 C480.0 382.3 480.1 386.3 480.9 389.4 C481.8 392.5 485.2 396.3 486.1 397.6"/>
<path class="k" d="M476.0 383.2 C476.1 381.1 477.1 379.9 477.6 381.1 C478.2 382.3 478.2 387.2 479.3 390.4 C480.4 393.6 483.6 398.2 484.2 400.3 C484.8 402.4 484.2 403.9 483.0 402.8 C481.8 401.6 478.0 396.8 476.8 393.5 C475.6 390.2 475.8 385.3 476.0 383.2Z"/>
<path class="t" d="M481.3 389.4 L487.1 386.7 L489.2 392.5"/>
<path class="t" stroke-width="1.8" d="M494.3 374.5 L463.8 465"/>
<path class="t" stroke-width="1.8" d="M486.2 366.5 L494.3 374.5"/>
<path class="t" stroke="#444" stroke-width="0.9" d="M522.2 409.0 C518.6 402.1 503.5 376.3 500.5 367.7 C497.5 359.1 501.4 361.0 504.0 357.4 C506.6 353.8 511.2 349.3 516.0 346.1 C520.7 342.8 526.6 339.4 532.5 337.8 C538.3 336.3 547.9 337.0 551.0 336.8"/>
<path class="g" d="M504.6 364.6 L549.0 340.9"/>
<path class="t" stroke-width="1" d="M494.3 374.3 L518.5 410.6"/>
<path class="t" stroke-width="1.6" d="M557.2 342 L596.4 393.5"/>
<path class="g" stroke-width="2.4" d="M556 345 L593.5 394"/>
<path class="t" stroke-width="1" d="M551.0 336.8 L557.2 342.0"/>
<path class="k" d="M557.2 340.9 L563.4 335.2 L573.7 351.2 L576.2 361.5 L571.6 356.4Z"/>
<path class="w" d="M561.3 341.3 L563.8 339.3 L571.2 350.2 L570.6 353.7Z"/>
<path class="t" stroke-width="1.1" d="M596.4 393.5 L538.7 413.1"/>
<ellipse cx="504.6" cy="404.8" rx="8.3" ry="4.4" fill="#111"/>
<ellipse cx="506" cy="406" rx="5.2" ry="2.2" fill="#fff"/>
<circle cx="531.2" cy="409.5" r="7.8" fill="#fff" stroke="#333" stroke-width="1.2"/>
<ellipse cx="527.3" cy="417.2" rx="9" ry="5" fill="#111"/>
<ellipse cx="528.6" cy="418" rx="5.6" ry="2.4" fill="#fff"/>
<path class="t" stroke-width="1.6" d="M533 424.4 L511.3 447.1 L517.5 455.5"/>
<path class="k" d="M511.3 447.1 L517.5 455.8 L520.5 453.5 L513.5 445Z"/>
<path class="t" stroke-width="1.6" d="M534.4 428.2 L534.4 436"/>
<path class="k" d="M534.0 442.4 L540.6 440.1 L552.0 449.6 L549.5 454.1 L542.5 444.3 L536.9 447.1Z"/>
<path class="t" d="M540.6 440.1 L552.0 449.6 L551.4 464.1"/>
<path class="t" d="M552.0 449.6 L560.1 445.2 L560.9 460.3"/>
<path class="k" d="M541.2 449.0 C541.3 447.7 542.9 445.8 543.9 446.2 C544.8 446.5 546.5 449.3 546.9 450.9 C547.3 452.5 546.9 455.1 546.3 455.6 C545.7 456.1 544.3 455.2 543.5 454.1 C542.6 453.0 541.1 450.3 541.2 449.0Z"/>
<path class="w" d="M543.1 449.6 C543.0 448.6 544.1 448.1 544.6 448.4 C545.1 448.8 545.8 450.9 545.9 451.8 C546.1 452.8 545.8 454.5 545.4 454.1 C544.9 453.7 543.2 450.5 543.1 449.6Z"/>
<path class="t" stroke-width="1.4" d="M463.4 465.3 L490.2 476.6 L518.5 461"/>
<path class="t" stroke-width="1.2" d="M468 462.5 L492 472.5"/>
<path class="k" d="M463.6 472.6 L490.6 483.3 L506 474.5 L506 476.5 L490.8 485.6 L463.8 474.9Z"/>
<path class="t" stroke-width="1" d="M466 480 L491 490.5"/>
<path class="t" d="M490.2 476.6 L491 486"/>
<circle cx="509.7" cy="475.3" r="4.8" fill="#999" stroke="#111" stroke-width="1.6"/>
<path class="k" d="M505.0 474.0 C505.4 472.6 507.1 470.8 508.5 470.5 C509.9 470.2 513.2 471.2 513.5 472.0 C513.8 472.8 511.2 474.3 510.0 475.5 C508.8 476.7 506.8 479.2 506.0 479.0 C505.2 478.8 504.6 475.4 505.0 474.0Z"/>
<path class="t" stroke-width="1.6" d="M505.5 477.5 L492 484.5"/>
<path class="k" d="M518 461 L520.5 460.5 L522.4 478.7 L519.5 480.5Z"/>
<clipPath id="bore"><ellipse cx="572" cy="421.8" rx="22.3" ry="18" transform="rotate(-14 572 421.8)"/></clipPath>
<ellipse cx="572" cy="421.8" rx="22.3" ry="18" transform="rotate(-14 572 421.8)" fill="#0a0a0a" stroke="#111" stroke-width="1.6"/>
<g clip-path="url(#bore)"><ellipse cx="568.6" cy="425.6" rx="18.6" ry="14.6" transform="rotate(-14 568.6 425.6)" fill="#fff"/><path class="w" d="M547.3 420.6 L556.7 408.4 L562.4 408.4 L556.7 427.3Z"/></g>
<path class="o" stroke-width="1.4" d="M557.7 416.3 L565.2 410.2 L574.1 412.5 L566.5 420.6Z"/>
<path class="t" stroke-width="1.4" d="M551.4 425.4 C552.1 426.5 553.6 430.3 555.8 432.0 C557.9 433.7 561.0 435.1 564.3 435.8 C567.6 436.4 572.2 436.6 575.6 435.8 C579.0 434.9 582.5 432.9 584.7 430.7 C586.8 428.5 587.8 423.9 588.5 422.5"/>
<path class="k" d="M575.6 415.0 C575.8 414.2 580.4 413.5 582.2 414.4 C584.1 415.3 586.0 418.5 586.6 420.6 C587.1 422.8 586.4 425.5 585.4 427.3 C584.5 429.0 581.3 431.5 580.9 431.0 C580.5 430.6 582.8 426.5 582.8 424.4 C582.8 422.4 582.1 420.3 580.9 418.8 C579.7 417.2 575.4 415.7 575.6 415.0Z"/>
<path class="t" stroke-width="1.6" d="M549.5 428.2 C549.9 429.6 550.5 434.2 552.0 436.7 C553.5 439.2 557.1 440.8 558.6 443.3 C560.1 445.8 560.4 449.0 560.9 451.8 C561.3 454.7 561.3 458.9 561.4 460.3"/>
<path class="t" stroke-width="1.4" d="M556.7 436.7 C557.7 437.8 561.0 440.8 562.4 443.3 C563.8 445.8 564.7 449.2 565.2 451.8 C565.7 454.5 565.2 458.1 565.2 459.4"/>
<path class="t" stroke-width="1.2" d="M565.2 442.4 L583.2 436.7 L593.0 433.9"/>
<path class="t" stroke-width="1.2" d="M566.2 457.5 L582.2 452.8 L583.2 449.0"/>
<path class="t" stroke-width="1.2" d="M566.2 445.2 L566.5 457.9"/>
<path class="t" stroke-width="1" d="M549.5 430.1 L548.8 436.7 L556.7 446.2"/>
</g>

<g id="leaders">
<path class="ld" d="M212 172.5 L327 169.2"/>
<path class="ld" d="M510.8 50.5 L510.8 91.5"/>
<path class="ld" d="M546.3 111 L546.3 146"/>
<path class="ld" d="M593 180.3 L634.5 180.2"/>
<path class="ld" d="M535.7 248.4 L717 246.7"/>
<path class="ld" d="M571.6 370.8 L719.4 369"/>
<path class="ld" d="M671.6 416 L719.4 415.9"/>
<path class="ld" d="M603.9 496.1 L719.4 462.3 L667 537"/>
<path class="ld" d="M215 405.7 L310 405"/>
<path class="ld" d="M217.6 542 L512 540"/>
</g>
</g>
</svg>
</body>
</html>
